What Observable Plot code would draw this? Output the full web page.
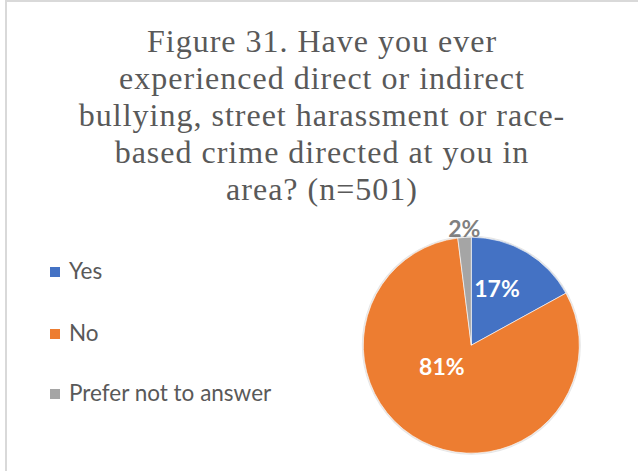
<!DOCTYPE html>
<html>
<head>
<meta charset="utf-8">
<script src="https://cdn.jsdelivr.net/npm/d3@7"></script>
<script src="https://cdn.jsdelivr.net/npm/@observablehq/plot@0.6"></script>
<style>
  html, body { margin: 0; padding: 0; background: #fff; }
  #wrap { position: relative; width: 638px; height: 471px; overflow: hidden; }
  #frame { position: absolute; left: 5px; top: 0px; width: 700px; height: 600px; border: 2px solid #d9d9d9; box-sizing: border-box; }
  #title { position: absolute; left: 6px; width: 632px; top: 23px; text-align: center;
           font-family: "Liberation Serif", serif; font-size: 32px; letter-spacing: 1px; line-height: 37px; color: #595959; }
  #legend { position: absolute; left: 50px; top: 0; font-family: Lato, sans-serif; font-size: 22.5px; color: #595959; }
  .item { position: absolute; white-space: nowrap; display: flex; align-items: center; }
  .sw { width: 10px; height: 10px; margin-right: 9px; margin-top: 3px; }
  #chart { position: absolute; left: 0; top: 0; }
</style>
</head>
<body>
<div id="wrap">
  <div id="frame"></div>
  <div id="title"></div>
  <div id="legend"></div>
  <div id="chart"></div>
</div>
<script>
const titleLines = [
  "Figure 31. Have you ever",
  "experienced direct or indirect",
  "bullying, street harassment or race-",
  "based crime directed at you in",
  "area? (n=501)"
];
const categories = ["Yes", "No", "Prefer not to answer"];
const percents = [17, 81, 2];
const colors = ["#4472C4", "#ED7D31", "#A5A5A5"];

// title
document.getElementById("title").innerHTML = titleLines.join("<br>");

// legend
const legendTops = [257, 319, 379];
const legend = document.getElementById("legend");
categories.forEach((c, i) => {
  const it = document.createElement("div");
  it.className = "item";
  it.style.top = legendTops[i] + "px";
  const sw = document.createElement("span");
  sw.className = "sw";
  sw.style.background = colors[i];
  const tx = document.createElement("span");
  tx.textContent = c;
  it.appendChild(sw); it.appendChild(tx);
  legend.appendChild(it);
});

// pie geometry from data
const data = categories.map((c, i) => ({category: c, value: percents[i]}));
const arcs = d3.pie().sort(null).value(d => d.value)(data);
const labels = arcs.map(a => {
  const mid = (a.startAngle + a.endAngle) / 2;
  const outside = a.data.value < 5;
  const rr = outside ? 1.1 : 0.55;
  return {
    category: a.data.category,
    text: a.data.value + "%",
    x: rr * Math.sin(mid),
    y: rr * Math.cos(mid),
    outside,
    big: a.data.value > 50
  };
});

function pieMark(index, scales) {
  const cx = scales.x(0), cy = scales.y(0);
  const r = scales.x(1) - cx;
  const g = d3.create("svg:g").attr("transform", `translate(${cx},${cy})`);
  const arc = d3.arc().innerRadius(0).outerRadius(r);
  g.append("circle").attr("r", r + 0.5).attr("fill", "none").attr("stroke", "#e6e6e6").attr("stroke-width", 2);
  g.selectAll("path").data(arcs).join("path")
    .attr("d", arc)
    .attr("fill", d => scales.color(d.data.category))
    .attr("stroke", "#fff").attr("stroke-width", 0.6);
  return g.node();
}

const plot = Plot.plot({
  width: 638,
  height: 471,
  margin: 0,
  style: {background: "transparent", overflow: "visible"},
  x: {domain: [-1, 1], range: [363.3, 579.3], axis: null},
  y: {domain: [-1, 1], range: [453.2, 237.2], axis: null},
  color: {domain: categories, range: colors},
  marks: [
    pieMark,
    Plot.text(labels.filter(d => !d.outside && !d.big), {x: "x", y: "y", text: "text", fill: "#fff",
      fontWeight: "bold", fontSize: 23, fontFamily: "Lato, sans-serif", dx: -5, dy: -5}),
    Plot.text(labels.filter(d => d.big), {x: "x", y: "y", text: "text", fill: "#fff",
      fontWeight: "bold", fontSize: 23, fontFamily: "Lato, sans-serif", dx: -3, dy: -31}),
    Plot.text(labels.filter(d => d.outside), {x: "x", y: "y", text: "text", fill: "#808080",
      fontWeight: "bold", fontSize: 23, fontFamily: "Lato, sans-serif", dy: 2})
  ]
});
document.getElementById("chart").appendChild(plot);
</script>
</body>
</html>
